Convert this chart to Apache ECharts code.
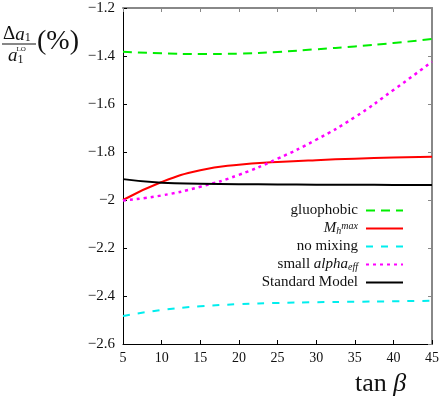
<!DOCTYPE html>
<html>
<head>
<meta charset="utf-8">
<script src="https://cdn.jsdelivr.net/npm/echarts@6/dist/echarts.min.js"></script>
<style>
  html, body { margin: 0; padding: 0; background: #fff; }
  #chart { width: 443px; height: 399px; }
</style>
</head>
<body>
<div id="chart"></div>
<script>
// tan(beta) sampling points
const tanBeta = [5, 10, 15, 20, 25, 30, 35, 40, 45];

// relative correction Delta a1 / a1^LO in %
const gluophobic = [-1.382, -1.389, -1.392, -1.390, -1.383, -1.372, -1.360, -1.346, -1.329];
const mhMax = [-2.000, -1.925, -1.876, -1.853, -1.842, -1.834, -1.828, -1.823, -1.820];
const noMixing = [-2.483, -2.458, -2.443, -2.434, -2.429, -2.426, -2.424, -2.422, -2.420];
const smallAlpha = [-2.002, -1.981, -1.945, -1.895, -1.828, -1.749, -1.655, -1.542, -1.424];
const standardModel = [-1.913, -1.928, -1.932, -1.934, -1.935, -1.936, -1.936, -1.937, -1.937];

const yTicks = [-2.6, -2.4, -2.2, -2, -1.8, -1.6, -1.4, -1.2];

const serif = 'Liberation Serif';

function pairs(vals) {
  return tanBeta.map((x, i) => [x, vals[i]]);
}

function lineSeries(name, vals, color, type, width) {
  return {
    name: name,
    type: 'line',
    data: pairs(vals),
    smooth: true,
    showSymbol: false,
    lineStyle: { color: color, width: width, type: type },
    itemStyle: { color: color },
    z: 3
  };
}

const chart = echarts.init(document.getElementById('chart'));

const option = {
  animation: false,
  grid: { left: 123, right: 11, top: 8, bottom: 55 },
  xAxis: [
    {
      type: 'value', min: 5, max: 45, interval: 5,
      axisLine: { lineStyle: { color: '#000', width: 1 } },
      axisTick: { inside: true, length: 4, lineStyle: { color: '#000' } },
      axisLabel: { color: '#111', fontFamily: serif, fontSize: 14, margin: 7 },
      splitLine: { show: false }
    },
    {
      type: 'value', min: 5, max: 45, interval: 5, position: 'top',
      axisLine: { lineStyle: { color: '#888', width: 2 } },
      axisTick: { inside: true, length: 4, lineStyle: { color: '#888' } },
      axisLabel: { show: false },
      splitLine: { show: false }
    }
  ],
  yAxis: [
    {
      type: 'value', min: -2.6, max: -1.2, interval: 0.2,
      axisLine: { show: true, lineStyle: { color: '#000', width: 1 } },
      axisTick: { show: true, inside: true, length: 4, lineStyle: { color: '#000' } },
      axisLabel: {
        color: '#111', fontFamily: serif, fontSize: 15, margin: 8,
        formatter: v => {
          const t = yTicks.find(k => Math.abs(k - v) < 1e-6);
          const s = String(t !== undefined ? t : +v.toFixed(1));
          return s.replace('-', '\u2212');
        }
      },
      splitLine: { show: false }
    },
    {
      type: 'value', min: -2.6, max: -1.2, interval: 0.2, position: 'right',
      axisLine: { show: true, lineStyle: { color: '#888', width: 2 } },
      axisTick: { show: true, inside: true, length: 4, lineStyle: { color: '#888' } },
      axisLabel: { show: false },
      splitLine: { show: false }
    }
  ],
  legend: {
    orient: 'vertical',
    right: 34,
    top: 198,
    align: 'right',
    itemWidth: 37,
    itemHeight: 12,
    itemGap: 3,
    itemStyle: { opacity: 0 },
    textStyle: {
      fontFamily: serif, fontSize: 15, color: '#111', lineHeight: 15, padding: [0, 3, 0, 0],
      rich: {
        n: { fontFamily: serif, fontSize: 15, color: '#111', lineHeight: 15 },
        i: { fontFamily: serif, fontSize: 15, fontStyle: 'italic', color: '#111', lineHeight: 15 },
        sub: { fontFamily: serif, fontSize: 10, fontStyle: 'italic', color: '#111', verticalAlign: 'bottom', lineHeight: 15, padding: [5, 0, 0, 0] },
        sup: { fontFamily: serif, fontSize: 10, fontStyle: 'italic', color: '#111', verticalAlign: 'top', lineHeight: 15, padding: [0, 0, 5, 0] }
      }
    },
    formatter: name => {
      if (name === 'Mh') return '{i|M}{sub|h}{sup|max}';
      if (name === 'small') return '{n|small }{i|alpha}{sub|eff}';
      return '{n|' + name + '}';
    },
    data: ['gluophobic', 'Mh', 'no mixing', 'small', 'Standard Model']
  },
  graphic: [
    {
      type: 'text', left: 3, top: 25,
      style: {
        text: '{d|\u0394}{a|a}{s|1}',
        rich: {
          d: { fontFamily: serif, fontSize: 19, fill: '#111' },
          a: { fontFamily: serif, fontSize: 19, fontStyle: 'italic', fill: '#111' },
          s: { fontFamily: serif, fontSize: 12, fill: '#111', verticalAlign: 'bottom', padding: [6, 0, 0, 0] }
        }
      }
    },
    {
      type: 'line',
      shape: { x1: 2, y1: 44, x2: 36, y2: 44 },
      style: { stroke: '#111', lineWidth: 1.2 }
    },
    {
      type: 'text', left: 8, top: 46,
      style: {
        text: '{a|a}{s|1}{t|LO}',
        rich: {
          a: { fontFamily: serif, fontSize: 19, fontStyle: 'italic', fill: '#111' },
          s: { fontFamily: serif, fontSize: 12, fill: '#111', verticalAlign: 'bottom', padding: [8, 0, 0, 0] },
          t: { fontFamily: serif, fontSize: 7, fill: '#111', verticalAlign: 'top', padding: [0, 0, 10, -7] }
        }
      }
    },
    {
      type: 'text', left: 37, top: 28,
      style: { text: '(%)', fontFamily: serif, fontSize: 28, fill: '#111' }
    },
    {
      type: 'text', left: 355, top: 371,
      style: {
        text: '{a|tan }{b|\u03b2}',
        rich: {
          a: { fontFamily: serif, fontSize: 26, fill: '#111' },
          b: { fontFamily: serif, fontSize: 26, fontStyle: 'italic', fill: '#111' }
        }
      }
    }
  ],
  series: [
    lineSeries('gluophobic', gluophobic, '#00ee00', [9, 6], 2),
    lineSeries('Mh', mhMax, '#ff0000', 'solid', 2),
    lineSeries('no mixing', noMixing, '#00eeee', [7, 8], 2),
    lineSeries('small', smallAlpha, '#ff00ff', [3, 4], 2.5),
    lineSeries('Standard Model', standardModel, '#000000', 'solid', 2)
  ]
};

chart.setOption(option);
</script>
</body>
</html>
